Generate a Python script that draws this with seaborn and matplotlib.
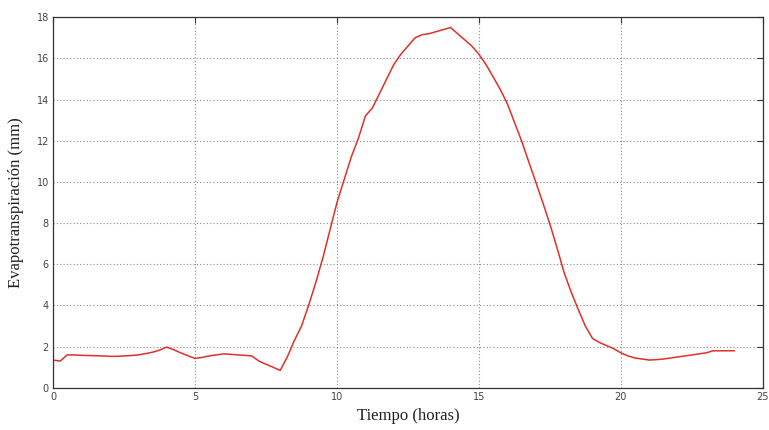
import numpy as np
import pandas as pd
import matplotlib
matplotlib.use("Agg")
import matplotlib.pyplot as plt
import seaborn as sns

# Time (hours), quarter-hour steps
tiempo = [i * 0.25 for i in range(97)]
# Evapotranspiration (mm)
evapotranspiracion = [
    1.35, 1.30, 1.60, 1.60, 1.58, 1.57, 1.56, 1.55,
    1.53, 1.53, 1.55, 1.57, 1.60, 1.66, 1.73, 1.83,
    1.98, 1.85, 1.70, 1.56, 1.43, 1.48, 1.55, 1.60,
    1.65, 1.63, 1.60, 1.58, 1.55, 1.30, 1.15, 1.00,
    0.85, 1.50, 2.30, 3.00, 4.00, 5.10, 6.30, 7.65,
    9.00, 10.10, 11.20, 12.10, 13.20, 13.60, 14.30, 15.00,
    15.70, 16.20, 16.60, 17.00, 17.15, 17.20, 17.30, 17.40,
    17.50, 17.20, 16.90, 16.60, 16.20, 15.70, 15.10, 14.50,
    13.80, 12.90, 12.00, 11.00, 10.00, 9.00, 7.95, 6.80,
    5.60, 4.65, 3.80, 3.00, 2.40, 2.20, 2.05, 1.90,
    1.70, 1.55, 1.45, 1.40, 1.35, 1.37, 1.40, 1.45,
    1.50, 1.55, 1.60, 1.65, 1.70, 1.80, 1.80, 1.80,
    1.80,
]
x_ticks = [0, 5, 10, 15, 20, 25]
y_ticks = [0, 2, 4, 6, 8, 10, 12, 14, 16, 18]

df = pd.DataFrame({"t": tiempo, "et": evapotranspiracion})

sns.set_style("white")
fig = plt.figure(figsize=(7.69, 4.30), dpi=100)
ax = fig.add_axes([0.069, 0.098, 0.923, 0.862])

sns.lineplot(data=df, x="t", y="et", ax=ax, color="#e0302a", linewidth=1.1,
             errorbar=None)

ax.set_xlim(0, 25)
ax.set_ylim(0, 18)
ax.set_xticks(x_ticks)
ax.set_yticks(y_ticks)
ax.grid(True, linestyle=(0, (1, 2)), color="#8a8a8a", linewidth=0.8)
ax.tick_params(direction="in", length=4, width=0.8, top=True, right=True,
               labelsize=7, colors="#333333", pad=3)
for lab in ax.get_xticklabels() + ax.get_yticklabels():
    lab.set_color("#444444")
for s in ax.spines.values():
    s.set_color("#333333")
    s.set_linewidth(0.9)

ax.set_xlabel("Tiempo (horas)", fontsize=12, family="Liberation Serif",
              color="#222222", labelpad=4)
ax.set_ylabel("Evapotranspiración (mm)", fontsize=12, family="Liberation Serif",
              color="#222222", labelpad=9)

fig.savefig("out.png", dpi=100)
